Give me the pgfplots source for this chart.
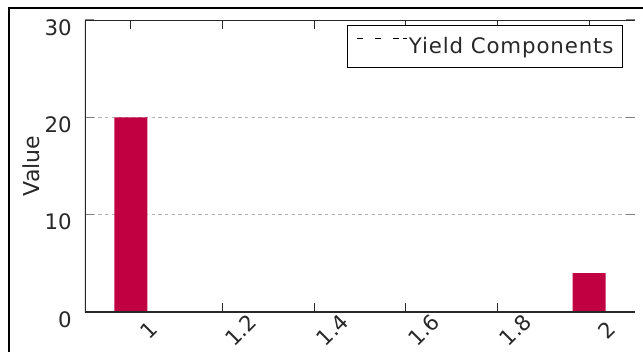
\documentclass[border=0pt]{standalone}
\usepackage{fontspec}
\setmainfont{DejaVu Sans}
\newfontfamily\legfont{DejaVu Sans}[LetterSpace=4]
\usepackage{pgfplots}
\pgfplotsset{compat=1.18}
\definecolor{barred}{RGB}{192,0,64}
\definecolor{gridgray}{RGB}{175,175,175}
\definecolor{axisdark}{RGB}{40,40,40}
\begin{document}
\begin{tikzpicture}
\useasboundingbox (0,0) rectangle (482.25pt,263.25pt);
% page frame (top and left edges)
\draw[line width=0.8pt, black] (6.75pt,-2pt) -- (6.75pt,257.25pt) -- (485pt,257.25pt);
\begin{axis}[
  at={(63.75pt,29.25pt)}, anchor=south west,
  scale only axis, width=412.5pt, height=219pt,
  xmin=0.9, xmax=2.1, ymin=0, ymax=30,
  xtick={1,1.2,1.4,1.6,1.8,2},
  ytick={0,10,20,30},
  tick align=inside,
  major tick length=7pt,
  axis line style={draw=none},
  ymajorgrids,
  grid style={gridgray, dash pattern=on 2.5pt off 2.5pt, line width=0.6pt},
  xtick style={axisdark, line width=0.6pt},
  ytick style={gray, line width=0.8pt},
  /pgf/number format/assume math mode=true,
  tick label style={font=\fontsize{16}{19}\selectfont, text=axisdark},
  yticklabel style={anchor=east, inner sep=0pt, xshift=-9.75pt, yshift=-5.5pt},
  xticklabel style={xshift=13.5pt, yshift=-13.5pt, rotate=45, anchor=center, inner sep=0pt},
  ylabel={Value},
  ylabel style={at={(axis description cs:-0.0982,0.5)}, anchor=center, rotate=0,
    font=\fontsize{16.5}{19}\selectfont, text=axisdark},
  legend style={at={(1,1)}, anchor=north east, xshift=-9pt, yshift=-3.75pt,
    draw=black, line width=0.8pt, inner xsep=6.75pt, inner ysep=7pt,
    column sep=0.75pt,
    font=\legfont\fontsize{16}{19}\selectfont, text=axisdark,
    nodes={inner xsep=0pt, inner ysep=2pt}},
  legend image code/.code={%
    \draw[black, line width=0.8pt,
      dash pattern=on 4.5pt off 9pt on 4.5pt off 9pt on 4.5pt off 3pt on 3pt off 0pt]
      (0pt,0.6em) -- (37.5pt,0.6em);},
]
\addplot[ybar, bar width=0.072, fill=barred, draw=none, forget plot]
  coordinates {(1,20) (2,4)};
\addlegendimage{black, dashed}
\addlegendentry{Yield Components}
% left, top and bottom edges of the plot frame
\draw[axisdark, line width=1.2pt]
  (rel axis cs:1,1) -- (rel axis cs:0,1) -- (rel axis cs:0,0) -- (rel axis cs:1,0);
\end{axis}
\end{tikzpicture}
\end{document}
